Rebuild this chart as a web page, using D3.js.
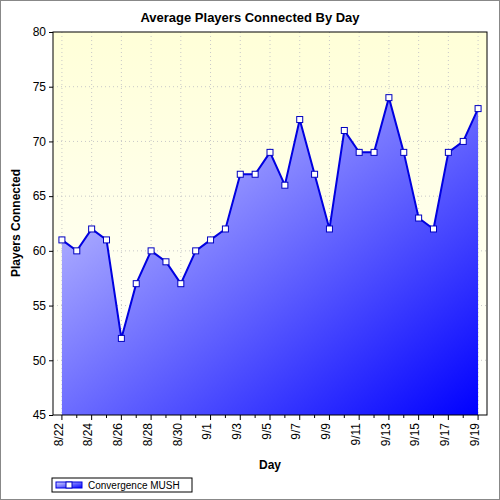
<!DOCTYPE html>
<html><head><script src="https://cdn.jsdelivr.net/npm/d3@7"></script>
<style>body{margin:0}svg{font-family:Arial,"Liberation Sans",sans-serif}</style></head>
<body><script>
const days=["8/22","8/23","8/24","8/25","8/26","8/27","8/28","8/29","8/30","8/31","9/1","9/2","9/3","9/4","9/5","9/6","9/7","9/8","9/9","9/10","9/11","9/12","9/13","9/14","9/15","9/16","9/17","9/18","9/19"];
const players=[61,60,62,61,52,57,60,59,57,60,61,62,67,67,69,66,72,67,62,71,69,69,74,69,63,62,69,70,73];
const yTicks=[45,50,55,60,65,70,75,80];
const seriesName="Convergence MUSH";

const svg=d3.select("body").append("svg").attr("width",500).attr("height",500);
svg.append("rect").attr("x",0.5).attr("y",0.5).attr("width",499).attr("height",499).attr("fill","#fff").attr("stroke","#888");
const L=53,R=487,T=32,B=415;
const defs=svg.append("defs");
const bg=defs.append("linearGradient").attr("id","bg").attr("x1",0).attr("y1",0).attr("x2",0).attr("y2",1);
bg.append("stop").attr("offset",0).attr("stop-color","#ffffd8");
bg.append("stop").attr("offset",1).attr("stop-color","#ffffff");
const ag=defs.append("linearGradient").attr("id","ag").attr("x1",0).attr("y1",0).attr("x2",1).attr("y2",1);
ag.append("stop").attr("offset",0).attr("stop-color","#d8d8ff");
ag.append("stop").attr("offset",1).attr("stop-color","#0000ff");
svg.append("rect").attr("x",L).attr("y",T).attr("width",R-L).attr("height",B-T).attr("fill","url(#bg)");
const x=d3.scalePoint().domain(days).range([L,R]).padding(0.6);
const y=d3.scaleLinear().domain([45,80]).range([B,T]);
// grid
svg.append("g").selectAll("line").data(yTicks.slice(1,-1)).join("line")
 .attr("x1",L).attr("x2",R).attr("y1",d=>y(d)).attr("y2",d=>y(d)).attr("stroke","#c8c8c8").attr("stroke-dasharray","1,3");
svg.append("g").selectAll("line").data(days.filter((d,i)=>i%2==0)).join("line")
 .attr("y1",T).attr("y2",B).attr("x1",d=>x(d)).attr("x2",d=>x(d)).attr("stroke","#c8c8c8").attr("stroke-dasharray","1,3");
const area=d3.area().x((d,i)=>x(days[i])).y0(B).y1(d=>y(d));
svg.append("path").datum(players).attr("d",area).attr("fill","url(#ag)");
svg.append("path").datum(players).attr("d",d3.line().x((d,i)=>x(days[i])).y(d=>y(d))).attr("fill","none").attr("stroke","#0000e0").attr("stroke-width",2);
svg.append("g").selectAll("rect").data(players).join("rect")
 .attr("x",(d,i)=>x(days[i])-3).attr("y",d=>y(d)-3).attr("width",6).attr("height",6)
 .attr("fill","#fff").attr("stroke","#0000c0");
svg.append("rect").attr("x",L).attr("y",T).attr("width",R-L).attr("height",B-T).attr("fill","none").attr("stroke","#000");
// y axis
const ya=svg.append("g").attr("transform",`translate(${L},0)`).call(d3.axisLeft(y).tickValues(yTicks).tickSize(4));
ya.select(".domain").remove();
ya.selectAll("text").attr("font-size",12).attr("fill","#000");
// x axis
const xa=svg.append("g").attr("transform",`translate(0,${B})`).call(d3.axisBottom(x).tickValues(days).tickSize(0).tickFormat((d,i)=>i%2==0?d:""));
xa.select(".domain").remove();
xa.selectAll("line").remove();
svg.append("g").selectAll("line").data(days).join("line").attr("x1",d=>x(d)).attr("x2",d=>x(d)).attr("y1",B).attr("y2",(d,i)=>B+(i%2==0?5:3)).attr("stroke","#000");
xa.selectAll("text").attr("font-size",12).attr("fill","#000").attr("transform","rotate(-90)").attr("text-anchor","end").attr("x",-8).attr("y",-4).attr("dy","0.35em");
svg.append("text").attr("x",250).attr("y",22).attr("text-anchor","middle").attr("font-weight","bold").attr("font-size",13).text("Average Players Connected By Day");
svg.append("text").attr("x",270).attr("y",469).attr("text-anchor","middle").attr("font-weight","bold").attr("font-size",12).text("Day");
svg.append("text").attr("transform","translate(20,223) rotate(-90)").attr("text-anchor","middle").attr("font-weight","bold").attr("font-size",12).text("Players Connected");
// legend
const lg=svg.append("g");
lg.append("rect").attr("x",52).attr("y",478).attr("width",140).attr("height",14).attr("fill","#fff").attr("stroke","#000");
lg.append("rect").attr("x",56).attr("y",482).attr("width",26).attr("height",6).attr("fill","url(#ag)").attr("stroke","#0000e0");
lg.append("rect").attr("x",66).attr("y",482).attr("width",6).attr("height",6).attr("fill","#fff").attr("stroke","#0000c0");
lg.append("text").attr("x",88).attr("y",489).attr("font-size",10).text(seriesName);
</script></body></html>
